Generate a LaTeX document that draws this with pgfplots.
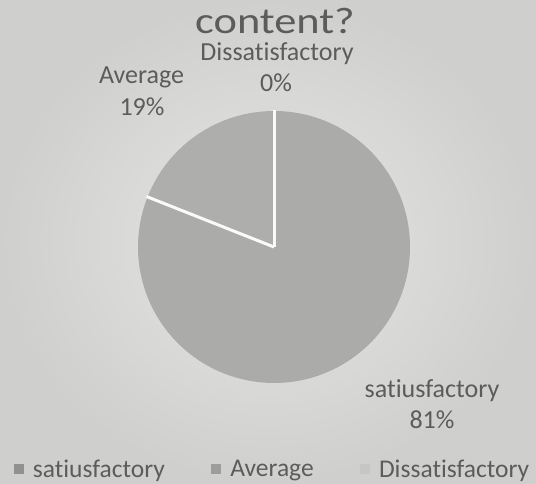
\documentclass[border=0pt]{standalone}
\usepackage{pgfplots}
\pgfplotsset{compat=1.18}
\usepackage{pgfplotstable}
\usepackage{fontspec}
\setmainfont{Carlito}[Ligatures=NoCommon]
\definecolor{bgin}{RGB}{230,230,228}
\definecolor{bgout}{RGB}{207,207,205}
\definecolor{satc}{RGB}{171,171,169}
\definecolor{avgc}{RGB}{174,174,172}
\definecolor{disc}{RGB}{198,198,196}
\definecolor{txt}{RGB}{92,92,92}
\pgfplotstableread{
label value
satiusfactory 81
Average 19
Dissatisfactory 0
}\piedata
\pgfplotstablegetelem{0}{value}\of\piedata \let\vsat\pgfplotsretval
\pgfplotstablegetelem{1}{value}\of\piedata \let\vavg\pgfplotsretval
\pgfplotstablegetelem{2}{value}\of\piedata \let\vdis\pgfplotsretval
\pgfmathsetmacro\aA{90}
\pgfmathsetmacro\aB{90-3.6*\vsat}
\pgfmathsetmacro\aC{\aB-3.6*\vavg}
\pgfmathsetmacro\aD{\aC-3.6*\vdis}
\begin{document}
\begin{tikzpicture}
\begin{axis}[
  scale only axis, width=536pt, height=483pt,
  xmin=0, xmax=536, ymin=0, ymax=483,
  hide axis, clip=false,
  legend columns=3,
  legend style={at={(axis cs:13.5,4.5)}, anchor=south west, draw=none, fill=none,
    inner sep=0pt, outer sep=0pt, text=txt,
    font=\fontsize{25.5}{30}\selectfont,
    nodes={inner xsep=0pt, inner ysep=0pt},
    /tikz/every odd column/.style={column sep=10pt},
    /tikz/every even column/.style={column sep=46pt}},
]
\shade[inner color=bgin, outer color=bgout] (axis cs:0,0) rectangle (axis cs:536,483);
% pie slices from the data
\fill[satc] (axis cs:274,236) -- ++(\aA:136pt) arc[start angle=\aA, end angle=\aB, radius=136pt] -- cycle;
\fill[avgc] (axis cs:274,236) -- ++(\aB:136pt) arc[start angle=\aB, end angle=\aC, radius=136pt] -- cycle;
\draw[white!96!gray, line width=3pt] (axis cs:274,236) -- ++(\aA:137pt);
\draw[white!96!gray, line width=3pt] (axis cs:274,236) -- ++(\aB:137pt);
\addlegendimage{legend image code/.code={\fill[satc!85!black] (0pt,-4.5pt) rectangle (9pt,4.5pt);}}
\addlegendentry{satiusfactory}
\addlegendimage{legend image code/.code={\fill[avgc!90!black] (0pt,-4.5pt) rectangle (9pt,4.5pt);}}
\addlegendentry{Average}
\addlegendimage{legend image code/.code={\fill[disc] (0pt,-4.5pt) rectangle (9pt,4.5pt);}}
\addlegendentry{Dissatisfactory}
% labels
\node[anchor=base, text=txt, font=\fontsize{37}{42}\selectfont, xscale=1.2, inner sep=0pt] at (axis cs:275,449) {content?};
\begin{scope}[every node/.style={anchor=base, text=txt, font=\fontsize{26}{30}\selectfont, inner sep=0pt}]
\node at (axis cs:277,422) {Dissatisfactory};
\node at (axis cs:276,391) {0\%};
\node at (axis cs:141.5,399) {Average};
\node at (axis cs:142,367) {19\%};
\node at (axis cs:432,86) {satiusfactory};
\node at (axis cs:432,55) {81\%};
\end{scope}
\end{axis}
\end{tikzpicture}
\end{document}
